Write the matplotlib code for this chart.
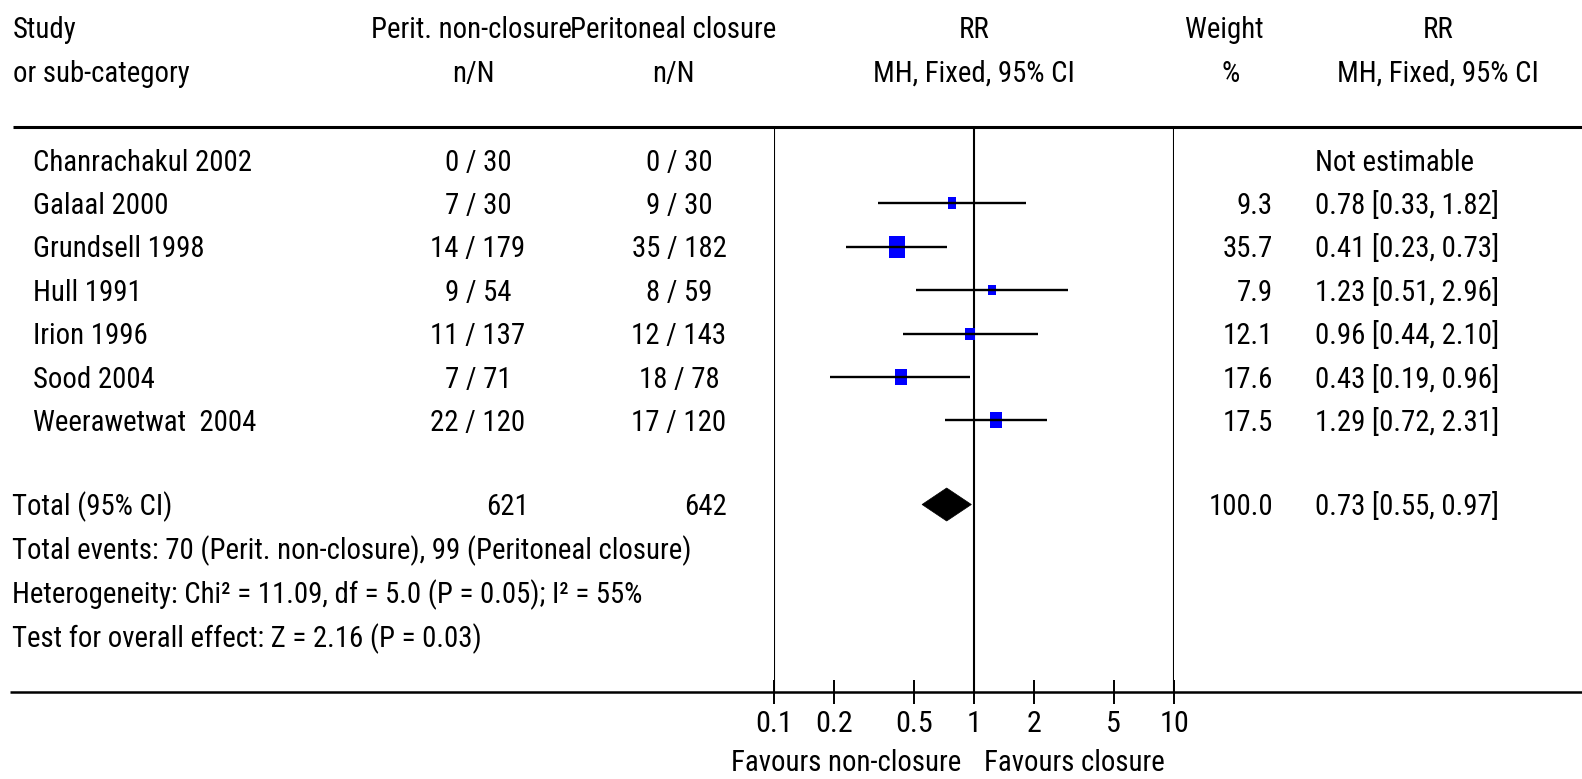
import matplotlib
matplotlib.use("Agg")
import matplotlib.pyplot as plt
from matplotlib import font_manager as fm
from matplotlib.patches import Polygon
from matplotlib.ticker import FixedLocator, FixedFormatter, NullLocator

# ---------------- data ----------------
studies = ["Chanrachakul 2002", "Galaal 2000", "Grundsell 1998", "Hull 1991",
           "Irion 1996", "Sood 2004", "Weerawetwat  2004"]
ev_non = [0, 7, 14, 9, 11, 7, 22]
tot_non = [30, 30, 179, 54, 137, 71, 120]
ev_clo = [0, 9, 35, 8, 12, 18, 17]
tot_clo = [30, 30, 182, 59, 143, 78, 120]
rr = [None, 0.78, 0.41, 1.23, 0.96, 0.43, 1.29]
ci_lo = [None, 0.33, 0.23, 0.51, 0.44, 0.19, 0.72]
ci_hi = [None, 1.82, 0.73, 2.96, 2.10, 0.96, 2.31]
weight = [None, 9.3, 35.7, 7.9, 12.1, 17.6, 17.5]

total_n_non = 621
total_n_clo = 642
total_weight = 100.0
total_rr, total_lo, total_hi = 0.73, 0.55, 0.97

footer_lines = ["Total events: 70 (Perit. non-closure), 99 (Peritoneal closure)",
                "Heterogeneity: Chi\u00b2 = 11.09, df = 5.0 (P = 0.05); I\u00b2 = 55%",
                "Test for overall effect: Z = 2.16 (P = 0.03)"]

tick_values = [0.1, 0.2, 0.5, 1, 2, 5, 10]
tick_labels = ["0.1", "0.2", "0.5", "1", "2", "5", "10"]
favours_left = "Favours non-closure"
favours_right = "Favours closure"

# ---------------- font ----------------
def pick_font():
    for name in ["Roboto Condensed", "Liberation Sans Narrow", "Open Sans Condensed"]:
        try:
            fm.findfont(fm.FontProperties(family=name), fallback_to_default=False)
            return name, 20.7
        except Exception:
            pass
    return "Liberation Sans", 17.5

FONT, FS = pick_font()
plt.rcParams["font.family"] = [FONT, "DejaVu Sans"]

# ---------------- layout (pixels) ----------------
W, H = 1582, 779
fig = plt.figure(figsize=(W / 100, H / 100), dpi=100)
fig.patch.set_facecolor("white")

ov = fig.add_axes([0, 0, 1, 1], zorder=0)
ov.set_xlim(0, W)
ov.set_ylim(H, 0)
ov.axis("off")

TOP_LINE, BOT_LINE = 127, 692
PLOT_L, PLOT_R = 774, 1174
ROW0, STEP = 160, 43.4
TOTAL_Y = 504.5
CAP = 10.5  # baseline offset from row centre

def txt(x, y, s, ha="left", fs=FS):
    ov.text(x, y + CAP, s, ha=ha, va="baseline", fontsize=fs, color="black")

# headers
txt(13, 27.5, "Study")
txt(13, 71.5, "or sub-category")
txt(471, 27.5, "Perit. non-closure", "center")
txt(673, 27.5, "Peritoneal closure", "center")
txt(473, 71.5, "n/N", "center")
txt(673, 71.5, "n/N", "center")
txt(974, 27.5, "RR", "center")
txt(974, 71.5, "MH, Fixed, 95% CI", "center")
txt(1224, 27.5, "Weight", "center")
txt(1231, 71.5, "%", "center")
txt(1438, 27.5, "RR", "center")
txt(1438, 71.5, "MH, Fixed, 95% CI", "center")

# horizontal rules
ov.plot([13, W], [TOP_LINE, TOP_LINE], color="black", lw=2.2, solid_capstyle="butt")
ov.plot([10, W], [BOT_LINE, BOT_LINE], color="black", lw=1.8, solid_capstyle="butt")

# study rows text
for i, name in enumerate(studies):
    y = ROW0 + i * STEP
    txt(33, y, name)
    txt(478, y, f"{ev_non[i]} / {tot_non[i]}", "center")
    txt(679, y, f"{ev_clo[i]} / {tot_clo[i]}", "center")
    if rr[i] is None:
        txt(1315, y, "Not estimable")
    else:
        txt(1273, y, f"{weight[i]:.1f}", "right")
        txt(1315, y, f"{rr[i]:.2f} [{ci_lo[i]:.2f}, {ci_hi[i]:.2f}]")

# total row
txt(12, TOTAL_Y, "Total (95% CI)")
txt(507, TOTAL_Y, f"{total_n_non}", "center")
txt(706, TOTAL_Y, f"{total_n_clo}", "center")
txt(1273, TOTAL_Y, f"{total_weight:.1f}", "right")
txt(1315, TOTAL_Y, f"{total_rr:.2f} [{total_lo:.2f}, {total_hi:.2f}]")

for k, line in enumerate(footer_lines):
    txt(12, 549 + k * 43.6, line)

# favours labels
ov.text(961, 771, favours_left, ha="right", va="baseline", fontsize=FS)
ov.text(984, 771, favours_right, ha="left", va="baseline", fontsize=FS)

# ---------------- forest axes ----------------
ax = fig.add_axes([PLOT_L / W, (H - BOT_LINE) / H, (PLOT_R - PLOT_L) / W,
                   (BOT_LINE - TOP_LINE) / H], zorder=1)
ax.patch.set_alpha(0)
ax.set_xscale("log")
ax.set_xlim(0.1, 10)
ax.set_ylim(BOT_LINE, TOP_LINE)
for sp in ax.spines.values():
    sp.set_visible(False)
ax.yaxis.set_major_locator(NullLocator())
ax.yaxis.set_minor_locator(NullLocator())
ax.xaxis.set_minor_locator(NullLocator())
ax.xaxis.set_major_locator(FixedLocator(tick_values))
ax.xaxis.set_major_formatter(FixedFormatter(tick_labels))
ax.tick_params(axis="x", which="major", direction="inout", length=17.3, width=1.4,
               pad=4.5, labelsize=FS + 1, colors="black")

for xv in [0.1, 1, 10]:
    ax.axvline(xv, color="black", lw=1.5, zorder=2)

for i in range(len(studies)):
    if rr[i] is None:
        continue
    y = ROW0 + i * STEP
    ms = 2.61 * weight[i] ** 0.5
    ax.plot([rr[i]], [y], marker=[(-0.37, -0.5), (0.37, -0.5), (0.37, 0.5), (-0.37, 0.5)],
            markersize=ms, color="#0000ff", markeredgewidth=0, linestyle="none", zorder=3)
    ax.plot([ci_lo[i], ci_hi[i]], [y, y], color="black", lw=1.7, zorder=4,
            solid_capstyle="butt")

diamond = Polygon([(total_lo, TOTAL_Y), (total_rr, TOTAL_Y - 16.5),
                   (total_hi, TOTAL_Y), (total_rr, TOTAL_Y + 16.5)],
                  closed=True, facecolor="black", edgecolor="black", lw=0.5, zorder=4)
ax.add_patch(diamond)

fig.savefig("out.png", dpi=100, facecolor="white")
